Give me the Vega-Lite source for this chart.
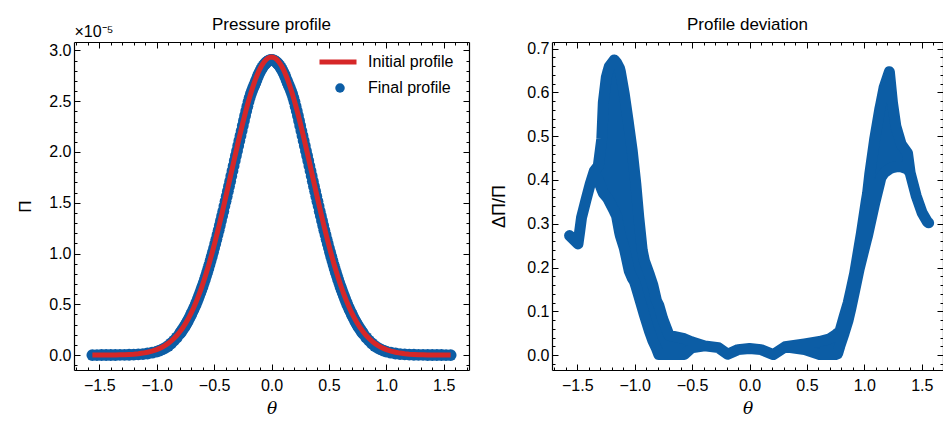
{
"$schema": "https://vega.github.io/schema/vega-lite/v6.json",
"background": "white",
"padding": {"left": 16, "top": 15, "right": 0, "bottom": 0},
"spacing": 20,
"config": {
  "view": {"stroke": null},
  "font": "Liberation Sans",
  "axis": {"grid": false, "domainColor": "black", "domainWidth": 1.2, "tickColor": "black", "tickWidth": 1, "labelColor": "black", "labelFont": "Liberation Sans", "labelFontSize": 16, "titleColor": "black", "titleFont": "Liberation Sans", "titleFontWeight": "normal", "titleFontSize": 17, "labelOverlap": false, "labelFlush": false, "labelBound": false},
  "title": {"font": "Liberation Sans", "fontSize": 17, "fontWeight": "normal", "color": "black"},
  "legend": {"labelFont": "Liberation Sans", "labelFontSize": 16, "labelColor": "black", "padding": 0}
},
"datasets": {
"profile": [
{"theta":-1.56,"initial":0.0002,"final":0.0001},
{"theta":-1.52,"initial":0.0003,"final":0.0002},
{"theta":-1.48,"initial":0.0005,"final":0.0004},
{"theta":-1.44,"initial":0.0007,"final":0.0005},
{"theta":-1.40,"initial":0.0011,"final":0.0007},
{"theta":-1.36,"initial":0.0018,"final":0.0011},
{"theta":-1.32,"initial":0.0028,"final":0.0017},
{"theta":-1.28,"initial":0.0042,"final":0.0025},
{"theta":-1.24,"initial":0.0063,"final":0.0035},
{"theta":-1.20,"initial":0.0092,"final":0.0046},
{"theta":-1.16,"initial":0.0135,"final":0.0068},
{"theta":-1.12,"initial":0.0194,"final":0.0101},
{"theta":-1.08,"initial":0.0276,"final":0.0152},
{"theta":-1.04,"initial":0.0388,"final":0.0233},
{"theta":-1.00,"initial":0.0538,"final":0.0334},
{"theta":-0.975,"initial":0.0655,"final":0.0432},
{"theta":-0.95,"initial":0.0794,"final":0.0556},
{"theta":-0.925,"initial":0.0958,"final":0.0709},
{"theta":-0.90,"initial":0.1149,"final":0.0896},
{"theta":-0.875,"initial":0.1373,"final":0.1140},
{"theta":-0.85,"initial":0.1631,"final":0.1419},
{"theta":-0.825,"initial":0.1928,"final":0.1735},
{"theta":-0.80,"initial":0.2269,"final":0.2087},
{"theta":-0.79,"initial":0.2418,"final":0.2249},
{"theta":-0.78,"initial":0.2575,"final":0.2408},
{"theta":-0.77,"initial":0.2739,"final":0.2575},
{"theta":-0.76,"initial":0.2912,"final":0.2752},
{"theta":-0.75,"initial":0.3093,"final":0.2938},
{"theta":-0.74,"initial":0.3284,"final":0.3130},
{"theta":-0.73,"initial":0.3483,"final":0.3333},
{"theta":-0.72,"initial":0.3690,"final":0.3542},
{"theta":-0.71,"initial":0.3908,"final":0.3763},
{"theta":-0.70,"initial":0.4134,"final":0.3993},
{"theta":-0.69,"initial":0.4371,"final":0.4231},
{"theta":-0.68,"initial":0.4617,"final":0.4474},
{"theta":-0.67,"initial":0.4873,"final":0.4727},
{"theta":-0.66,"initial":0.5139,"final":0.4990},
{"theta":-0.65,"initial":0.5416,"final":0.5264},
{"theta":-0.64,"initial":0.5702,"final":0.5548},
{"theta":-0.63,"initial":0.6000,"final":0.5844},
{"theta":-0.62,"initial":0.6307,"final":0.6143},
{"theta":-0.61,"initial":0.6625,"final":0.6459},
{"theta":-0.60,"initial":0.6954,"final":0.6780},
{"theta":-0.59,"initial":0.7293,"final":0.7111},
{"theta":-0.58,"initial":0.7642,"final":0.7451},
{"theta":-0.57,"initial":0.8002,"final":0.7802},
{"theta":-0.56,"initial":0.8372,"final":0.8163},
{"theta":-0.55,"initial":0.8752,"final":0.8533},
{"theta":-0.54,"initial":0.9142,"final":0.8913},
{"theta":-0.53,"initial":0.9542,"final":0.9313},
{"theta":-0.52,"initial":0.9951,"final":0.9712},
{"theta":-0.51,"initial":1.0370,"final":1.0121},
{"theta":-0.50,"initial":1.0797,"final":1.0538},
{"theta":-0.49,"initial":1.1233,"final":1.0963},
{"theta":-0.48,"initial":1.1678,"final":1.1398},
{"theta":-0.47,"initial":1.2130,"final":1.1851},
{"theta":-0.46,"initial":1.2590,"final":1.2300},
{"theta":-0.45,"initial":1.3057,"final":1.2757},
{"theta":-0.44,"initial":1.3529,"final":1.3231},
{"theta":-0.43,"initial":1.4009,"final":1.3701},
{"theta":-0.42,"initial":1.4493,"final":1.4174},
{"theta":-0.41,"initial":1.4983,"final":1.4668},
{"theta":-0.40,"initial":1.5476,"final":1.5151},
{"theta":-0.39,"initial":1.5973,"final":1.5638},
{"theta":-0.38,"initial":1.6473,"final":1.6144},
{"theta":-0.37,"initial":1.6974,"final":1.6635},
{"theta":-0.36,"initial":1.7477,"final":1.7127},
{"theta":-0.35,"initial":1.7981,"final":1.7639},
{"theta":-0.34,"initial":1.8484,"final":1.8133},
{"theta":-0.33,"initial":1.8986,"final":1.8625},
{"theta":-0.32,"initial":1.9486,"final":1.9135},
{"theta":-0.31,"initial":1.9983,"final":1.9623},
{"theta":-0.30,"initial":2.0477,"final":2.0108},
{"theta":-0.29,"initial":2.0966,"final":2.0610},
{"theta":-0.28,"initial":2.1449,"final":2.1106},
{"theta":-0.27,"initial":2.1927,"final":2.1598},
{"theta":-0.26,"initial":2.2396,"final":2.2082},
{"theta":-0.25,"initial":2.2858,"final":2.2584},
{"theta":-0.24,"initial":2.3310,"final":2.3077},
{"theta":-0.23,"initial":2.3753,"final":2.3563},
{"theta":-0.22,"initial":2.4184,"final":2.4039},
{"theta":-0.21,"initial":2.4603,"final":2.4505},
{"theta":-0.20,"initial":2.5010,"final":2.4960},
{"theta":-0.19,"initial":2.5404,"final":2.5353},
{"theta":-0.18,"initial":2.5783,"final":2.5706},
{"theta":-0.17,"initial":2.6146,"final":2.6015},
{"theta":-0.16,"initial":2.6493,"final":2.6308},
{"theta":-0.15,"initial":2.6824,"final":2.6583},
{"theta":-0.14,"initial":2.7137,"final":2.6838},
{"theta":-0.13,"initial":2.7431,"final":2.7129},
{"theta":-0.12,"initial":2.7707,"final":2.7430},
{"theta":-0.11,"initial":2.7963,"final":2.7683},
{"theta":-0.10,"initial":2.8199,"final":2.7917},
{"theta":-0.09,"initial":2.8414,"final":2.8130},
{"theta":-0.08,"initial":2.8608,"final":2.8322},
{"theta":-0.07,"initial":2.8780,"final":2.8492},
{"theta":-0.06,"initial":2.8930,"final":2.8641},
{"theta":-0.05,"initial":2.9058,"final":2.8767},
{"theta":-0.04,"initial":2.9163,"final":2.8871},
{"theta":-0.03,"initial":2.9245,"final":2.8953},
{"theta":-0.02,"initial":2.9303,"final":2.9010},
{"theta":-0.01,"initial":2.9338,"final":2.9045},
{"theta":0.00,"initial":2.9350,"final":2.9057},
{"theta":0.01,"initial":2.9338,"final":2.9045},
{"theta":0.02,"initial":2.9303,"final":2.9010},
{"theta":0.03,"initial":2.9245,"final":2.8953},
{"theta":0.04,"initial":2.9163,"final":2.8871},
{"theta":0.05,"initial":2.9058,"final":2.8767},
{"theta":0.06,"initial":2.8930,"final":2.8641},
{"theta":0.07,"initial":2.8780,"final":2.8492},
{"theta":0.08,"initial":2.8608,"final":2.8322},
{"theta":0.09,"initial":2.8414,"final":2.8130},
{"theta":0.10,"initial":2.8199,"final":2.7917},
{"theta":0.11,"initial":2.7963,"final":2.7683},
{"theta":0.12,"initial":2.7707,"final":2.7430},
{"theta":0.13,"initial":2.7431,"final":2.7129},
{"theta":0.14,"initial":2.7137,"final":2.6838},
{"theta":0.15,"initial":2.6824,"final":2.6583},
{"theta":0.16,"initial":2.6493,"final":2.6308},
{"theta":0.17,"initial":2.6146,"final":2.6015},
{"theta":0.18,"initial":2.5783,"final":2.5706},
{"theta":0.19,"initial":2.5404,"final":2.5353},
{"theta":0.20,"initial":2.5010,"final":2.4960},
{"theta":0.21,"initial":2.4603,"final":2.4505},
{"theta":0.22,"initial":2.4184,"final":2.4039},
{"theta":0.23,"initial":2.3753,"final":2.3563},
{"theta":0.24,"initial":2.3310,"final":2.3077},
{"theta":0.25,"initial":2.2858,"final":2.2584},
{"theta":0.26,"initial":2.2396,"final":2.2082},
{"theta":0.27,"initial":2.1927,"final":2.1598},
{"theta":0.28,"initial":2.1449,"final":2.1106},
{"theta":0.29,"initial":2.0966,"final":2.0610},
{"theta":0.30,"initial":2.0477,"final":2.0108},
{"theta":0.31,"initial":1.9983,"final":1.9623},
{"theta":0.32,"initial":1.9486,"final":1.9135},
{"theta":0.33,"initial":1.8986,"final":1.8625},
{"theta":0.34,"initial":1.8484,"final":1.8133},
{"theta":0.35,"initial":1.7981,"final":1.7639},
{"theta":0.36,"initial":1.7477,"final":1.7127},
{"theta":0.37,"initial":1.6974,"final":1.6635},
{"theta":0.38,"initial":1.6473,"final":1.6144},
{"theta":0.39,"initial":1.5973,"final":1.5638},
{"theta":0.40,"initial":1.5476,"final":1.5151},
{"theta":0.41,"initial":1.4983,"final":1.4668},
{"theta":0.42,"initial":1.4493,"final":1.4174},
{"theta":0.43,"initial":1.4009,"final":1.3701},
{"theta":0.44,"initial":1.3529,"final":1.3231},
{"theta":0.45,"initial":1.3057,"final":1.2757},
{"theta":0.46,"initial":1.2590,"final":1.2300},
{"theta":0.47,"initial":1.2130,"final":1.1851},
{"theta":0.48,"initial":1.1678,"final":1.1398},
{"theta":0.49,"initial":1.1233,"final":1.0963},
{"theta":0.50,"initial":1.0797,"final":1.0538},
{"theta":0.51,"initial":1.0370,"final":1.0121},
{"theta":0.52,"initial":0.9951,"final":0.9712},
{"theta":0.53,"initial":0.9542,"final":0.9313},
{"theta":0.54,"initial":0.9142,"final":0.8913},
{"theta":0.55,"initial":0.8752,"final":0.8533},
{"theta":0.56,"initial":0.8372,"final":0.8163},
{"theta":0.57,"initial":0.8002,"final":0.7802},
{"theta":0.58,"initial":0.7642,"final":0.7451},
{"theta":0.59,"initial":0.7293,"final":0.7111},
{"theta":0.60,"initial":0.6954,"final":0.6780},
{"theta":0.61,"initial":0.6625,"final":0.6459},
{"theta":0.62,"initial":0.6307,"final":0.6143},
{"theta":0.63,"initial":0.6000,"final":0.5844},
{"theta":0.64,"initial":0.5702,"final":0.5548},
{"theta":0.65,"initial":0.5416,"final":0.5264},
{"theta":0.66,"initial":0.5139,"final":0.4990},
{"theta":0.67,"initial":0.4873,"final":0.4727},
{"theta":0.68,"initial":0.4617,"final":0.4474},
{"theta":0.69,"initial":0.4371,"final":0.4231},
{"theta":0.70,"initial":0.4134,"final":0.3993},
{"theta":0.71,"initial":0.3908,"final":0.3763},
{"theta":0.72,"initial":0.3690,"final":0.3542},
{"theta":0.73,"initial":0.3483,"final":0.3333},
{"theta":0.74,"initial":0.3284,"final":0.3130},
{"theta":0.75,"initial":0.3093,"final":0.2938},
{"theta":0.76,"initial":0.2912,"final":0.2752},
{"theta":0.77,"initial":0.2739,"final":0.2575},
{"theta":0.78,"initial":0.2575,"final":0.2408},
{"theta":0.79,"initial":0.2418,"final":0.2249},
{"theta":0.80,"initial":0.2269,"final":0.2087},
{"theta":0.825,"initial":0.1928,"final":0.1735},
{"theta":0.85,"initial":0.1631,"final":0.1419},
{"theta":0.875,"initial":0.1373,"final":0.1140},
{"theta":0.90,"initial":0.1149,"final":0.0896},
{"theta":0.925,"initial":0.0958,"final":0.0709},
{"theta":0.95,"initial":0.0794,"final":0.0556},
{"theta":0.975,"initial":0.0655,"final":0.0432},
{"theta":1.00,"initial":0.0538,"final":0.0334},
{"theta":1.04,"initial":0.0388,"final":0.0233},
{"theta":1.08,"initial":0.0276,"final":0.0152},
{"theta":1.12,"initial":0.0194,"final":0.0101},
{"theta":1.16,"initial":0.0135,"final":0.0068},
{"theta":1.20,"initial":0.0092,"final":0.0046},
{"theta":1.24,"initial":0.0063,"final":0.0035},
{"theta":1.28,"initial":0.0042,"final":0.0025},
{"theta":1.32,"initial":0.0028,"final":0.0017},
{"theta":1.36,"initial":0.0018,"final":0.0011},
{"theta":1.40,"initial":0.0011,"final":0.0007},
{"theta":1.44,"initial":0.0007,"final":0.0005},
{"theta":1.48,"initial":0.0005,"final":0.0004},
{"theta":1.52,"initial":0.0003,"final":0.0002},
{"theta":1.56,"initial":0.0002,"final":0.0001}
],
"deviation": [
{"theta":-1.567,"low":0.273,"high":0.273},
{"theta":-1.494,"low":0.254,"high":0.254},
{"theta":-1.478,"low":0.284,"high":0.284},
{"theta":-1.463,"low":0.314,"high":0.314},
{"theta":-1.426,"low":0.352,"high":0.352},
{"theta":-1.387,"low":0.391,"high":0.391},
{"theta":-1.352,"low":0.415,"high":0.420},
{"theta":-1.317,"low":0.400,"high":0.432},
{"theta":-1.286,"low":0.378,"high":0.495},
{"theta":-1.273,"low":0.370,"high":0.577},
{"theta":-1.247,"low":0.362,"high":0.634},
{"theta":-1.231,"low":0.356,"high":0.650},
{"theta":-1.221,"low":0.351,"high":0.659},
{"theta":-1.178,"low":0.329,"high":0.674},
{"theta":-1.158,"low":0.318,"high":0.668},
{"theta":-1.132,"low":0.281,"high":0.655},
{"theta":-1.125,"low":0.273,"high":0.648},
{"theta":-1.090,"low":0.244,"high":0.595},
{"theta":-1.057,"low":0.204,"high":0.535},
{"theta":-1.047,"low":0.192,"high":0.516},
{"theta":-1.021,"low":0.176,"high":0.466},
{"theta":-1.002,"low":0.168,"high":0.420},
{"theta":-0.990,"low":0.158,"high":0.391},
{"theta":-0.964,"low":0.135,"high":0.314},
{"theta":-0.934,"low":0.108,"high":0.239},
{"theta":-0.915,"low":0.091,"high":0.215},
{"theta":-0.871,"low":0.054,"high":0.183},
{"theta":-0.842,"low":0.033,"high":0.160},
{"theta":-0.810,"low":0.015,"high":0.124},
{"theta":-0.790,"low":0.0015,"high":0.114},
{"theta":-0.756,"low":0.0015,"high":0.083},
{"theta":-0.700,"low":0.0015,"high":0.045},
{"theta":-0.568,"low":0.0015,"high":0.0375},
{"theta":-0.506,"low":0.0165,"high":0.0305},
{"theta":-0.390,"low":0.021,"high":0.021},
{"theta":-0.270,"low":0.017,"high":0.017},
{"theta":-0.190,"low":0.002,"high":0.002},
{"theta":-0.100,"low":0.0125,"high":0.0125},
{"theta":0.000,"low":0.015,"high":0.015},
{"theta":0.100,"low":0.0125,"high":0.0125},
{"theta":0.207,"low":0.0013,"high":0.0013},
{"theta":0.310,"low":0.019,"high":0.019},
{"theta":0.480,"low":0.0125,"high":0.0255},
{"theta":0.610,"low":0.0015,"high":0.031},
{"theta":0.700,"low":0.0015,"high":0.0375},
{"theta":0.750,"low":0.0015,"high":0.046},
{"theta":0.767,"low":0.003,"high":0.050},
{"theta":0.786,"low":0.020,"high":0.053},
{"theta":0.824,"low":0.050,"high":0.088},
{"theta":0.859,"low":0.080,"high":0.119},
{"theta":0.882,"low":0.106,"high":0.146},
{"theta":0.916,"low":0.148,"high":0.187},
{"theta":0.955,"low":0.197,"high":0.248},
{"theta":0.975,"low":0.218,"high":0.279},
{"theta":1.018,"low":0.263,"high":0.354},
{"theta":1.028,"low":0.273,"high":0.369},
{"theta":1.047,"low":0.296,"high":0.413},
{"theta":1.085,"low":0.341,"high":0.484},
{"theta":1.091,"low":0.348,"high":0.495},
{"theta":1.134,"low":0.394,"high":0.561},
{"theta":1.144,"low":0.405,"high":0.574},
{"theta":1.172,"low":0.416,"high":0.611},
{"theta":1.218,"low":0.425,"high":0.647},
{"theta":1.245,"low":0.428,"high":0.576},
{"theta":1.274,"low":0.430,"high":0.523},
{"theta":1.320,"low":0.430,"high":0.482},
{"theta":1.376,"low":0.425,"high":0.461},
{"theta":1.399,"low":0.416,"high":0.416},
{"theta":1.451,"low":0.364,"high":0.364},
{"theta":1.503,"low":0.325,"high":0.325},
{"theta":1.547,"low":0.305,"high":0.305},
{"theta":1.560,"low":0.302,"high":0.302}
]
},
"resolve": {"scale": {"color": "independent", "shape": "independent"}, "legend": {"color": "independent", "shape": "independent"}},
"hconcat": [
{
  "width": 395, "height": 328,
  "title": {"text": "Pressure profile", "anchor": "middle", "frame": "group", "offset": -10},
  "data": {"name": "profile"},
  "layer": [
    {
      "mark": {"type": "point", "filled": true, "size": 140, "color": "#0C5DA5", "opacity": 1, "strokeWidth": 0},
      "encoding": {
        "x": {"field": "theta", "type": "quantitative", "scale": {"domain": [-1.72, 1.72], "nice": false, "zero": false},
          "axis": {"orient": "bottom", "values": [-1.7,-1.6,-1.5,-1.4,-1.3,-1.2,-1.1,-1.0,-0.9,-0.8,-0.7,-0.6,-0.5,-0.4,-0.3,-0.2,-0.1,0,0.1,0.2,0.3,0.4,0.5,0.6,0.7,0.8,0.9,1.0,1.1,1.2,1.3,1.4,1.5,1.6,1.7],
            "labelExpr": "abs(datum.value*2-round(datum.value*2))<1e-6 ? format(datum.value,'.1f') : ''",
            "tickSize": {"condition": {"test": "abs(datum.value*2-round(datum.value*2))<1e-6", "value": -6}, "value": -3},
            "labelPadding": 13, "title": "θ", "titleFont": "DejaVu Serif", "titleFontStyle": "italic", "titleFontSize": 17, "titlePadding": 4}},
        "y": {"field": "final", "type": "quantitative", "scale": {"domain": [-0.147, 3.083], "nice": false, "zero": false},
          "axis": {"orient": "left", "values": [-0.1,0,0.1,0.2,0.3,0.4,0.5,0.6,0.7,0.8,0.9,1.0,1.1,1.2,1.3,1.4,1.5,1.6,1.7,1.8,1.9,2.0,2.1,2.2,2.3,2.4,2.5,2.6,2.7,2.8,2.9,3.0],
            "labelExpr": "abs(datum.value*2-round(datum.value*2))<1e-6 ? format(datum.value,'.1f') : ''",
            "tickSize": {"condition": {"test": "abs(datum.value*2-round(datum.value*2))<1e-6", "value": -6}, "value": -3},
            "labelPadding": 9, "title": "Π", "titlePadding": 14}},
        "shape": {"datum": "Final profile", "type": "nominal", "scale": {"range": ["circle"]},
          "legend": {"orient": "none", "legendX": 258, "legendY": 38, "title": null, "symbolSize": 90, "symbolFillColor": "#0C5DA5", "symbolStrokeColor": "#0C5DA5", "symbolStrokeWidth": 0, "labelOffset": 20, "labelFontSize": 16}}
      }
    },
    {
      "mark": {"type": "line", "strokeWidth": 5},
      "encoding": {
        "x": {"field": "theta", "type": "quantitative", "scale": {"domain": [-1.72, 1.72], "nice": false, "zero": false},
          "axis": {"orient": "top", "values": [-1.7,-1.6,-1.5,-1.4,-1.3,-1.2,-1.1,-1.0,-0.9,-0.8,-0.7,-0.6,-0.5,-0.4,-0.3,-0.2,-0.1,0,0.1,0.2,0.3,0.4,0.5,0.6,0.7,0.8,0.9,1.0,1.1,1.2,1.3,1.4,1.5,1.6,1.7],
            "labels": false,
            "tickSize": {"condition": {"test": "abs(datum.value*2-round(datum.value*2))<1e-6", "value": -6}, "value": -3},
            "title": "×10⁻⁵", "titleAnchor": "start", "titleAlign": "left", "titleAngle": 0, "titleBaseline": "alphabetic", "titleFontSize": 16, "titlePadding": 5}},
        "y": {"field": "initial", "type": "quantitative", "scale": {"domain": [-0.147, 3.083], "nice": false, "zero": false},
          "axis": {"orient": "right", "values": [-0.1,0,0.1,0.2,0.3,0.4,0.5,0.6,0.7,0.8,0.9,1.0,1.1,1.2,1.3,1.4,1.5,1.6,1.7,1.8,1.9,2.0,2.1,2.2,2.3,2.4,2.5,2.6,2.7,2.8,2.9,3.0],
            "labels": false,
            "tickSize": {"condition": {"test": "abs(datum.value*2-round(datum.value*2))<1e-6", "value": -6}, "value": -3},
            "title": null}},
        "color": {"datum": "Initial profile", "type": "nominal", "scale": {"range": ["#d62728"]},
          "legend": {"orient": "none", "legendX": 243, "legendY": -1, "title": null, "symbolType": "stroke", "symbolSize": 1369, "symbolStrokeWidth": 5, "labelOffset": 9, "labelFontSize": 16}}
      }
    }
  ],
  "resolve": {"scale": {"x": "independent", "y": "independent"}, "axis": {"x": "independent", "y": "independent"}}
},
{
  "width": 391, "height": 328,
  "title": {"text": "Profile deviation", "anchor": "middle", "frame": "group", "offset": 7},
  "data": {"name": "deviation"},
  "layer": [
    {
      "mark": {"type": "area", "color": "#0C5DA5", "stroke": "#0C5DA5", "strokeWidth": 11, "strokeJoin": "round", "opacity": 1},
      "encoding": {
        "x": {"field": "theta", "type": "quantitative", "scale": {"domain": [-1.72, 1.685], "nice": false, "zero": false},
          "axis": {"orient": "bottom", "values": [-1.7,-1.6,-1.5,-1.4,-1.3,-1.2,-1.1,-1.0,-0.9,-0.8,-0.7,-0.6,-0.5,-0.4,-0.3,-0.2,-0.1,0,0.1,0.2,0.3,0.4,0.5,0.6,0.7,0.8,0.9,1.0,1.1,1.2,1.3,1.4,1.5,1.6],
            "labelExpr": "abs(datum.value*2-round(datum.value*2))<1e-6 ? format(datum.value,'.1f') : ''",
            "tickSize": {"condition": {"test": "abs(datum.value*2-round(datum.value*2))<1e-6", "value": -6}, "value": -3},
            "labelPadding": 13, "title": "θ", "titleFont": "DejaVu Serif", "titleFontStyle": "italic", "titleFontSize": 17, "titlePadding": 4}},
        "y": {"field": "low", "type": "quantitative", "scale": {"domain": [-0.034, 0.715], "nice": false, "zero": false},
          "axis": {"orient": "left", "values": [-0.02,0,0.02,0.04,0.06,0.08,0.1,0.12,0.14,0.16,0.18,0.2,0.22,0.24,0.26,0.28,0.3,0.32,0.34,0.36,0.38,0.4,0.42,0.44,0.46,0.48,0.5,0.52,0.54,0.56,0.58,0.6,0.62,0.64,0.66,0.68,0.7],
            "labelExpr": "abs(datum.value*10-round(datum.value*10))<1e-6 ? format(datum.value,'.1f') : ''",
            "tickSize": {"condition": {"test": "abs(datum.value*10-round(datum.value*10))<1e-6", "value": -6}, "value": -3},
            "labelPadding": 9, "title": "ΔΠ/Π", "titleFontSize": 18, "titlePadding": 18}},
        "y2": {"field": "high"}
      }
    },
    {
      "mark": {"type": "area", "opacity": 0},
      "encoding": {
        "x": {"field": "theta", "type": "quantitative", "scale": {"domain": [-1.72, 1.685], "nice": false, "zero": false},
          "axis": {"orient": "top", "values": [-1.7,-1.6,-1.5,-1.4,-1.3,-1.2,-1.1,-1.0,-0.9,-0.8,-0.7,-0.6,-0.5,-0.4,-0.3,-0.2,-0.1,0,0.1,0.2,0.3,0.4,0.5,0.6,0.7,0.8,0.9,1.0,1.1,1.2,1.3,1.4,1.5,1.6],
            "labels": false,
            "tickSize": {"condition": {"test": "abs(datum.value*2-round(datum.value*2))<1e-6", "value": -6}, "value": -3},
            "title": null}},
        "y": {"field": "low", "type": "quantitative", "scale": {"domain": [-0.034, 0.715], "nice": false, "zero": false},
          "axis": {"orient": "right", "values": [-0.02,0,0.02,0.04,0.06,0.08,0.1,0.12,0.14,0.16,0.18,0.2,0.22,0.24,0.26,0.28,0.3,0.32,0.34,0.36,0.38,0.4,0.42,0.44,0.46,0.48,0.5,0.52,0.54,0.56,0.58,0.6,0.62,0.64,0.66,0.68,0.7],
            "labels": false,
            "tickSize": {"condition": {"test": "abs(datum.value*10-round(datum.value*10))<1e-6", "value": -6}, "value": -3},
            "title": null}},
        "y2": {"field": "high"}
      }
    }
  ],
  "resolve": {"scale": {"x": "independent", "y": "independent"}, "axis": {"x": "independent", "y": "independent"}}
}
]
}
